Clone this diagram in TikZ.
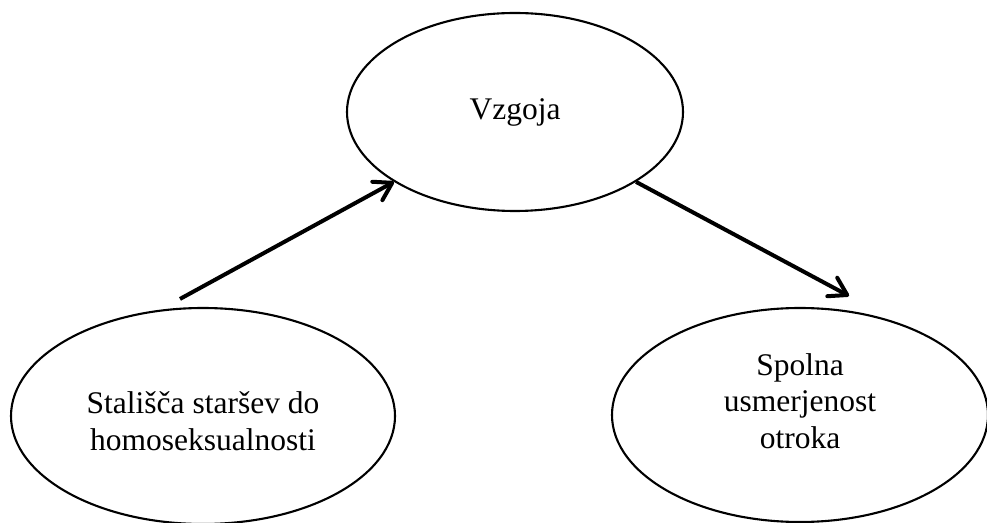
\documentclass[tikz,border=0pt]{standalone}
\usepackage{fontspec}
\setmainfont{Liberation Serif}
\usepackage{tikz}
\usetikzlibrary{%
  arrows.meta,%
  shapes.geometric,%
  positioning
}
\tikzset{
  bubble/.style={draw=black,ellipse,line width=2.1pt,inner sep=0pt},
  bubbletext/.style={align=center,inner sep=0pt,
    font=\fontsize{31.5}{36.5}\selectfont},
  arr/.style={line width=4pt,
    -{Straight Barb[length=17pt,width=21pt,line join=round,line cap=round]}}
}

\begin{document}
\begin{tikzpicture}[x=1pt,y=1pt]
      \useasboundingbox (0,0) rectangle (987,522);
      \node [bubble,bubbletext,minimum width=336pt,minimum height=198pt] (vzgoja) at (515,410) {Vzgoja};
      \node [bubble,minimum width=384pt,minimum height=216pt] (stalisca) at (203,106) {};
      \node [bubbletext] (stalisca-t) at (203,101) {Stališča staršev do\\homoseksualnosti};
      \node [bubble,minimum width=376pt,minimum height=214pt] (usmerjenost) at (800,107) {};
      \node [bubbletext] (usmerjenost-t) at (800,121) {Spolna\\usmerjenost\\otroka};
      \draw [arr] ([shift={(-23pt,8pt)}]stalisca.north) -- (vzgoja.210);
      \draw [arr] (vzgoja.330) -- ([shift={(49pt,11pt)}]usmerjenost.north);
    \end{tikzpicture}
\end{document}
